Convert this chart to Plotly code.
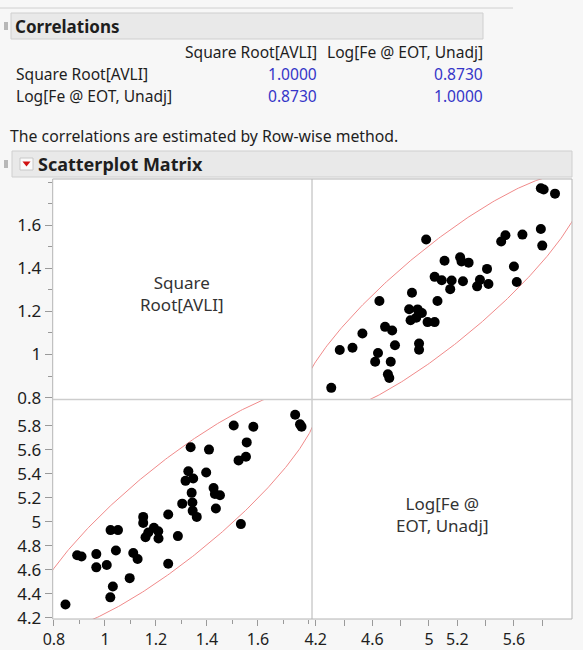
import numpy as np
import plotly.graph_objects as go

# ---------------- data ----------------
var_names = ["Square Root[AVLI]", "Log[Fe @ EOT, Unadj]"]
corr_values = [[1.0000, 0.8730], [0.8730, 1.0000]]
method_note = "The correlations are estimated by Row-wise method."

sqrt_avli = [0.845, 0.891, 0.908, 0.966, 0.966, 1.007, 1.022, 1.051, 1.043, 1.031,
             1.021, 1.097, 1.111, 1.128, 1.150, 1.150, 1.159, 1.170, 1.192, 1.209,
             1.210, 1.248, 1.248, 1.286, 1.303, 1.316, 1.327, 1.336, 1.346, 1.340,
             1.343, 1.344, 1.360, 1.397, 1.408, 1.426, 1.431, 1.451, 1.435, 1.505,
             1.533, 1.524, 1.553, 1.556, 1.582, 1.746, 1.765, 1.771]
log_fe = [4.31, 4.72, 4.71, 4.73, 4.62, 4.64, 4.93, 4.93, 4.76, 4.46,
          4.37, 4.53, 4.74, 4.69, 5.04, 4.99, 4.87, 4.91, 4.95, 4.92,
          4.86, 5.06, 4.65, 4.88, 5.15, 5.34, 5.42, 5.62, 5.36, 5.24,
          5.16, 5.09, 5.04, 5.41, 5.60, 5.28, 5.23, 5.22, 5.11, 5.80,
          4.98, 5.51, 5.54, 5.66, 5.79, 5.89, 5.81, 5.79]

avli_ticks = [0.8, 1.0, 1.2, 1.4, 1.6]
avli_labels = ["0.8", "1", "1.2", "1.4", "1.6"]
fe_x_ticks = [4.2, 4.4, 4.6, 4.8, 5.0, 5.2, 5.4, 5.6, 5.8]
fe_x_labels = ["4.2", "", "4.6", "", "5", "5.2", "", "5.6", ""]
fe_y_ticks = [4.2, 4.4, 4.6, 4.8, 5.0, 5.2, 5.4, 5.6, 5.8]
fe_y_labels = ["4.2", "4.4", "4.6", "4.8", "5", "5.2", "5.4", "5.6", "5.8"]

# ---------------- geometry ----------------
W, H = 583, 650
def px(x):
    return x / W
def py(y):
    return 1 - y / H

L, M, R = 52.7, 312.0, 572.0
T, MID, B = 179.0, 399.5, 619.0

FONT = "Noto Sans, Open Sans, sans-serif"
TXT = "#1e1e1e"

# ---------------- density ellipse (95%) ----------------
def ellipse(a, b, r, level_chi2=5.991, n=500):
    mu = np.array([a.mean(), b.mean()])
    sa, sb = a.std(ddof=1), b.std(ddof=1)
    S = np.array([[sa * sa, r * sa * sb], [r * sa * sb, sb * sb]])
    Lc = np.linalg.cholesky(S)
    t = np.linspace(0, 2 * np.pi, n)
    circ = np.vstack([np.cos(t), np.sin(t)]) * np.sqrt(level_chi2)
    e = mu[:, None] + Lc @ circ
    return e[0], e[1]

ex, ey = ellipse(np.array(sqrt_avli), np.array(log_fe), corr_values[0][1])

fig = go.Figure()
ell_color = "#f08a8a"
msize = 10
# bottom-left: x = AVLI, y = Log Fe
fig.add_trace(go.Scatter(x=ex, y=ey, mode="lines", xaxis="x", yaxis="y2",
                         line=dict(color=ell_color, width=1), hoverinfo="skip"))
fig.add_trace(go.Scatter(x=sqrt_avli, y=log_fe, mode="markers", xaxis="x", yaxis="y2",
                         marker=dict(color="black", size=msize)))
# top-right: x = Log Fe, y = AVLI
fig.add_trace(go.Scatter(x=ey, y=ex, mode="lines", xaxis="x2", yaxis="y",
                         line=dict(color=ell_color, width=1), hoverinfo="skip"))
fig.add_trace(go.Scatter(x=log_fe, y=sqrt_avli, mode="markers", xaxis="x2", yaxis="y",
                         marker=dict(color="black", size=msize)))

common = dict(showgrid=False, zeroline=False, showline=False, ticks="outside",
              tickcolor="#9a9a9a", automargin=False)
yfont = dict(family=FONT, size=17, color=TXT)
xfont = dict(family=FONT, size=16, color=TXT)
minor = dict(dtick=0.1, ticklen=4, tickcolor="#9a9a9a", ticks="outside", showgrid=False)

fig.update_layout(
    width=W, height=H, margin=dict(l=0, r=0, t=0, b=0, autoexpand=False),
    paper_bgcolor="#f7f7f7", plot_bgcolor="white", showlegend=False,
    xaxis=dict(domain=[px(L), px(M)], range=[0.795, 1.812], anchor="y2", ticklen=6, tickfont=xfont,
               tickmode="array", tickvals=avli_ticks, ticktext=avli_labels, minor=minor, **common),
    xaxis2=dict(domain=[px(M), px(R)], range=[4.174, 6.01], anchor="y2", ticklen=6, tickfont=xfont,
                tickmode="array", tickvals=fe_x_ticks, ticktext=fe_x_labels, **common),
    yaxis=dict(domain=[py(MID), py(T)], range=[0.791, 1.814], anchor="x", ticklen=7, tickfont=yfont,
               tickmode="array", tickvals=avli_ticks, ticktext=avli_labels, minor=minor, **common),
    yaxis2=dict(domain=[py(B), py(MID)], range=[4.19, 6.017], anchor="x", ticklen=7, tickfont=yfont,
                tickmode="array", tickvals=fe_y_ticks, ticktext=fe_y_labels, **common),
)

shapes = []
# white matrix background
shapes.append(dict(type="rect", xref="paper", yref="paper", x0=px(L), x1=px(R),
                   y0=py(B), y1=py(T), fillcolor="white", line=dict(width=0), layer="below"))
# top thin line
shapes.append(dict(type="line", xref="paper", yref="paper", x0=0, x1=px(513),
                   y0=py(8), y1=py(8), line=dict(color="#d0d0d0", width=1)))
# header bars
shapes.append(dict(type="rect", xref="paper", yref="paper", x0=px(11), x1=px(483),
                   y0=py(39), y1=py(13), fillcolor="#e9e9e9", line=dict(color="#cfcfcf", width=1),
                   layer="below"))
shapes.append(dict(type="rect", xref="paper", yref="paper", x0=px(12), x1=px(572),
                   y0=py(177), y1=py(151), fillcolor="#e9e9e9", line=dict(color="#cfcfcf", width=1),
                   layer="below"))
# little disclosure icons
for yy in (26, 164):
    shapes.append(dict(type="rect", xref="paper", yref="paper", x0=px(4), x1=px(8),
                       y0=py(yy + 4), y1=py(yy - 4), fillcolor="#b8b8b8", line=dict(width=0)))
# red triangle button
shapes.append(dict(type="rect", xref="paper", yref="paper", x0=px(20), x1=px(33),
                   y0=py(170), y1=py(158), fillcolor="#fafafa", line=dict(color="#c8c8c8", width=1)))
shapes.append(dict(type="path", xref="paper", yref="paper",
                   path=f"M {px(22.5)},{py(161.5)} L {px(30.5)},{py(161.5)} L {px(26.5)},{py(166.5)} Z",
                   fillcolor="#d01010", line=dict(width=0)))
# matrix borders
shapes.append(dict(type="rect", xref="paper", yref="paper", x0=px(L), x1=px(R),
                   y0=py(B), y1=py(T), line=dict(color="#b4b4b4", width=1)))
shapes.append(dict(type="line", xref="paper", yref="paper", x0=px(M), x1=px(M),
                   y0=py(B), y1=py(T), line=dict(color="#b4b4b4", width=1)))
shapes.append(dict(type="line", xref="paper", yref="paper", x0=px(L), x1=px(R),
                   y0=py(MID), y1=py(MID), line=dict(color="#cdcdcd", width=1.5)))
fig.update_layout(shapes=shapes)

ann = []
PAD = 2
def text(x, y, s, anchor="left", size=15.6, color=TXT, bold=False):
    if bold:
        s = f"<b>{s}</b>"
    xx = x - PAD if anchor == "left" else x + PAD
    ann.append(dict(x=px(xx), y=py(y), xref="paper", yref="paper", text=s, showarrow=False,
                    xanchor=anchor, yanchor="middle", font=dict(family=FONT, size=size, color=color)))

text(15, 26, "Correlations", bold=True, size=17)
col_right = [317, 483]
for j, name in enumerate(var_names):
    text(col_right[j], 52, name, anchor="right")
row_y = [74, 96]
for i, name in enumerate(var_names):
    text(16, row_y[i], name)
    for j in range(2):
        text(col_right[j], row_y[i], f"{corr_values[i][j]:.4f}", anchor="right", color="#3535c8")
text(10, 136, method_note, size=15.8)
text(38, 164, "Scatterplot Matrix", bold=True, size=18)

# diagonal labels
def wrap_label(name):
    if name.startswith("Square"):
        return "Square<br>Root[AVLI]"
    return "Log[Fe @<br>EOT, Unadj]"
ann.append(dict(x=px((L + M) / 2), y=py(293), xref="paper", yref="paper", text=wrap_label(var_names[0]),
                showarrow=False, xanchor="center", yanchor="middle",
                font=dict(family=FONT, size=17, color="#333333")))
ann.append(dict(x=px((M + R) / 2), y=py(514), xref="paper", yref="paper", text=wrap_label(var_names[1]),
                showarrow=False, xanchor="center", yanchor="middle",
                font=dict(family=FONT, size=17, color="#333333")))
fig.update_layout(annotations=ann)

fig.write_html("out.html", config={"displayModeBar": False},
               post_script="document.body.style.margin='0';")
